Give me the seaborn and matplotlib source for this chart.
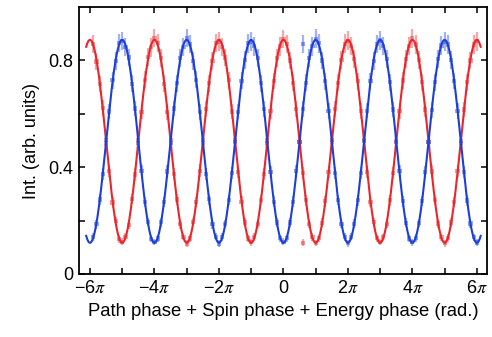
import numpy as np
import pandas as pd
import seaborn as sns
import matplotlib.pyplot as plt

# measured scan: phase in units of pi, start and step of the scan
scan_start_pi = -5.9
scan_step_pi = 0.1

red_int = [
    0.861, 0.796, 0.712, 0.621, 0.489, 0.386, 0.268, 0.197, 0.131, 0.121, 0.140, 0.184, 0.281, 0.373, 0.503, 0.608, 0.727, 0.812, 0.849, 0.884,
    0.866, 0.809, 0.713, 0.606, 0.502, 0.374, 0.279, 0.186, 0.140, 0.114, 0.133, 0.195, 0.269, 0.387, 0.491, 0.619, 0.714, 0.798, 0.866, 0.871,
    0.851, 0.811, 0.726, 0.609, 0.493, 0.383, 0.271, 0.193, 0.133, 0.119, 0.138, 0.187, 0.278, 0.376, 0.500, 0.611, 0.723, 0.809, 0.853, 0.880,
    0.862, 0.800, 0.716, 0.618, 0.494, 0.377, 0.276, 0.188, 0.138, 0.116, 0.134, 0.192, 0.272, 0.383, 0.494, 0.617, 0.716, 0.801, 0.863, 0.874,
    0.855, 0.807, 0.722, 0.611, 0.501, 0.381, 0.270, 0.194, 0.134, 0.120, 0.137, 0.188, 0.276, 0.378, 0.499, 0.610, 0.725, 0.807, 0.855, 0.882,
    0.860, 0.801, 0.718, 0.616, 0.495, 0.384, 0.277, 0.189, 0.137, 0.115, 0.135, 0.193, 0.270, 0.385, 0.492, 0.616, 0.719, 0.800, 0.860, 0.872,
]
blue_int = [
    0.139, 0.186, 0.279, 0.374, 0.503, 0.609, 0.726, 0.797, 0.865, 0.873, 0.851, 0.811, 0.713, 0.620, 0.491, 0.386, 0.269, 0.195, 0.132, 0.120,
    0.133, 0.194, 0.270, 0.384, 0.492, 0.620, 0.714, 0.810, 0.851, 0.884, 0.862, 0.798, 0.727, 0.607, 0.503, 0.374, 0.280, 0.186, 0.140, 0.114,
    0.138, 0.187, 0.277, 0.377, 0.500, 0.608, 0.724, 0.801, 0.864, 0.870, 0.853, 0.809, 0.715, 0.619, 0.490, 0.383, 0.271, 0.193, 0.134, 0.121,
    0.134, 0.193, 0.271, 0.385, 0.494, 0.617, 0.717, 0.808, 0.853, 0.881, 0.864, 0.800, 0.722, 0.610, 0.502, 0.377, 0.278, 0.187, 0.139, 0.115,
    0.140, 0.188, 0.276, 0.379, 0.498, 0.612, 0.722, 0.799, 0.861, 0.875, 0.855, 0.807, 0.718, 0.616, 0.495, 0.385, 0.272, 0.192, 0.133, 0.119,
    0.135, 0.191, 0.273, 0.382, 0.496, 0.615, 0.719, 0.806, 0.856, 0.870, 0.860, 0.802, 0.723, 0.611, 0.499, 0.381, 0.275, 0.189, 0.137, 0.118,
]
# two stray points at 0.6 pi
red_extra_pi, red_extra_int = [0.6], [0.117]
blue_extra_pi, blue_extra_int = [0.6], [0.862]

# cosine fit: offset + amp*cos(phase) for red, offset - amp*cos(phase) for blue
fit_offset = 0.497
fit_amp = 0.38
fit_range_pi = (-6.12, 6.12)

red_c = "#e8262b"
blue_c = "#1c3fd8"

n = len(red_int)
phase = (scan_start_pi + scan_step_pi * np.arange(n)) * np.pi
df = pd.DataFrame({
    "phase": np.concatenate([phase, phase, np.array(red_extra_pi) * np.pi, np.array(blue_extra_pi) * np.pi]),
    "int": np.concatenate([red_int, blue_int, red_extra_int, blue_extra_int]),
    "ch": ["red"] * n + ["blue"] * n + ["red"] * len(red_extra_int) + ["blue"] * len(blue_extra_int),
})
df["err"] = 0.035 * np.sqrt(df["int"] / 0.88)

xf = np.linspace(fit_range_pi[0] * np.pi, fit_range_pi[1] * np.pi, 800)
fit = pd.DataFrame({
    "phase": np.concatenate([xf, xf]),
    "int": np.concatenate([fit_offset + fit_amp * np.cos(xf), fit_offset - fit_amp * np.cos(xf)]),
    "ch": ["red"] * len(xf) + ["blue"] * len(xf),
})

sns.set_style("ticks")
plt.rcParams["font.family"] = ["Liberation Sans", "DejaVu Sans"]
plt.rcParams["mathtext.fontset"] = "stix"
plt.rcParams["axes.linewidth"] = 1.3
for k in ["text.color", "axes.labelcolor", "xtick.color", "ytick.color", "axes.edgecolor"]:
    plt.rcParams[k] = "black"

fig = plt.figure(figsize=(4.92, 3.37), dpi=100)
ax = fig.add_axes([0.1606, 0.187, 0.829, 0.792])

pal = {"red": red_c, "blue": blue_c}
for ch in ["red", "blue"]:
    d = df[df["ch"] == ch]
    ax.errorbar(d["phase"], d["int"], yerr=d["err"], fmt="none", ecolor=pal[ch],
                alpha=0.4, elinewidth=1.6, capsize=0, zorder=2)
sns.scatterplot(data=df, x="phase", y="int", hue="ch", palette=pal, marker="s",
                s=9, alpha=0.45, linewidth=0, legend=False, ax=ax, zorder=3)
sns.lineplot(data=fit, x="phase", y="int", hue="ch", palette=pal, linewidth=1.5,
             legend=False, ax=ax, zorder=4, sort=False, estimator=None)

ax.set_xlim(-6.34 * np.pi, 6.31 * np.pi)
ax.set_ylim(0, 1.0)
ticks_pi = [-6, -4, -2, 0, 2, 4, 6]
ax.set_xticks([t * np.pi for t in ticks_pi])
ax.set_xticklabels(["0" if t == 0 else ("\u2212" if t < 0 else "") + f"{abs(t)}" + r"$\pi$" for t in ticks_pi])
ax.set_xticks([t * np.pi for t in [-5, -3, -1, 1, 3, 5]], minor=True)
ax.set_yticks([0, 0.4, 0.8])
ax.set_yticklabels(["0", "0.4", "0.8"])
ax.set_yticks([0.2, 0.6], minor=True)
ax.tick_params(which="both", direction="in", top=True, right=True, length=4.5, width=1.1,
               labelsize=13, pad=4)
ax.set_xlabel("Path phase + Spin phase + Energy phase (rad.)", fontsize=13.3, labelpad=5)
ax.set_ylabel("Int. (arb. units)", fontsize=13, labelpad=6)

fig.savefig("out.png", dpi=100)
